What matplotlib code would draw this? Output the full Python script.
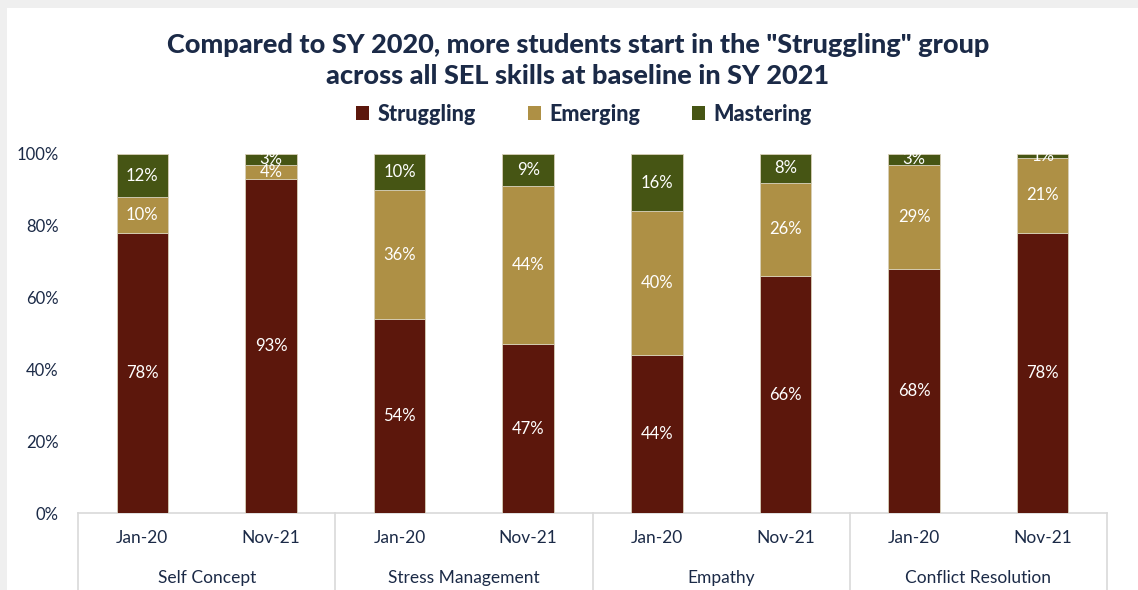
import matplotlib
matplotlib.use("Agg")
import matplotlib.pyplot as plt
from matplotlib.patches import Rectangle
import matplotlib.transforms as mtransforms
import numpy as np

# Data
skills = ["Self Concept", "Stress Management", "Empathy", "Conflict Resolution"]
periods = ["Jan-20", "Nov-21"]
struggling = [78, 93, 54, 47, 44, 66, 68, 78]
emerging = [10, 4, 36, 44, 40, 26, 29, 21]
mastering = [12, 3, 10, 9, 16, 8, 3, 1]
series_names = ["Struggling", "Emerging", "Mastering"]
y_ticks = [0, 20, 40, 60, 80, 100]

colors = ["#5c170c", "#ae9045", "#465514"]
navy = "#1b2a47"
font = "Lato"

fig = plt.figure(figsize=(11.38, 5.9), dpi=100)
fig.patch.set_facecolor("#efefef")
# white page area
fig.add_artist(Rectangle((7 / 1138, 0), 1 - 7 / 1138, 1 - 8 / 590,
                         transform=fig.transFigure, facecolor="white",
                         edgecolor="none", zorder=0))

ax = fig.add_axes([78 / 1138, 1 - 513 / 590, (1107 - 78) / 1138, (513 - 154) / 590])
ax.set_facecolor("none")

n = len(struggling)
x = np.arange(n)
width = 0.4
values = [np.array(struggling), np.array(emerging), np.array(mastering)]
bottom = np.zeros(n)
for vals, c in zip(values, colors):
    ax.bar(x, vals, width, bottom=bottom, color=c, edgecolor="#d8d0b8",
           linewidth=0.6, zorder=2)
    for xi, b, v in zip(x, bottom, vals):
        ax.text(xi, b + v / 2, f"{v}%", ha="center", va="center",
                color="white", fontsize=12, family=font, zorder=3,
                clip_on=True)
    bottom = bottom + vals

ax.set_xlim(-0.5, n - 0.5)
ax.set_ylim(0, 100)
ax.set_yticks(y_ticks)
ax.set_yticklabels([f"{t}%" for t in y_ticks], family=font, fontsize=12,
                   color=navy)
ax.tick_params(axis="y", length=0, pad=14)
ax.set_xticks([])
for s in ax.spines.values():
    s.set_visible(False)

# category axis: baseline, group separators and two-level labels
line_col = "#d9d9d9"
ax.axhline(0, color=line_col, lw=1.2, zorder=1, clip_on=False)
trans = mtransforms.blended_transform_factory(ax.transData, ax.transAxes)
for b in np.arange(-0.5, n, 2):
    ax.plot([b, b], [0, -0.3], color=line_col, lw=1.2, transform=trans,
            clip_on=False)
for i in range(n):
    ax.text(x[i], -0.07, periods[i % 2], transform=trans, ha="center",
            va="center", fontsize=12.5, family=font, color=navy)
for g, name in enumerate(skills):
    ax.text(2 * g + 0.5, -0.182, name, transform=trans, ha="center",
            va="center", fontsize=12.5, family=font, color=navy)

# title
fig.text(578 / 1138, 1 - 45 / 590,
         "Compared to SY 2020, more students start in the \"Struggling\" group",
         ha="center", va="center", fontsize=19.5, fontweight="black",
         family=font, color=navy)
fig.text(578 / 1138, 1 - 76 / 590,
         "across all SEL skills at baseline in SY 2021",
         ha="center", va="center", fontsize=19.5, fontweight="black",
         family=font, color=navy)

# legend
handles = [Rectangle((0, 0), 1, 1, facecolor=c) for c in colors]
leg = fig.legend(handles, series_names, loc="center",
                 bbox_to_anchor=(584 / 1138, 1 - 114 / 590), ncol=3,
                 frameon=False, handlelength=0.6, handleheight=0.6,
                 handletextpad=0.4, columnspacing=2.4,
                 prop={"family": font, "weight": "black", "size": 15.5})
for t in leg.get_texts():
    t.set_color(navy)

fig.savefig("out.png", dpi=100, facecolor=fig.get_facecolor())
